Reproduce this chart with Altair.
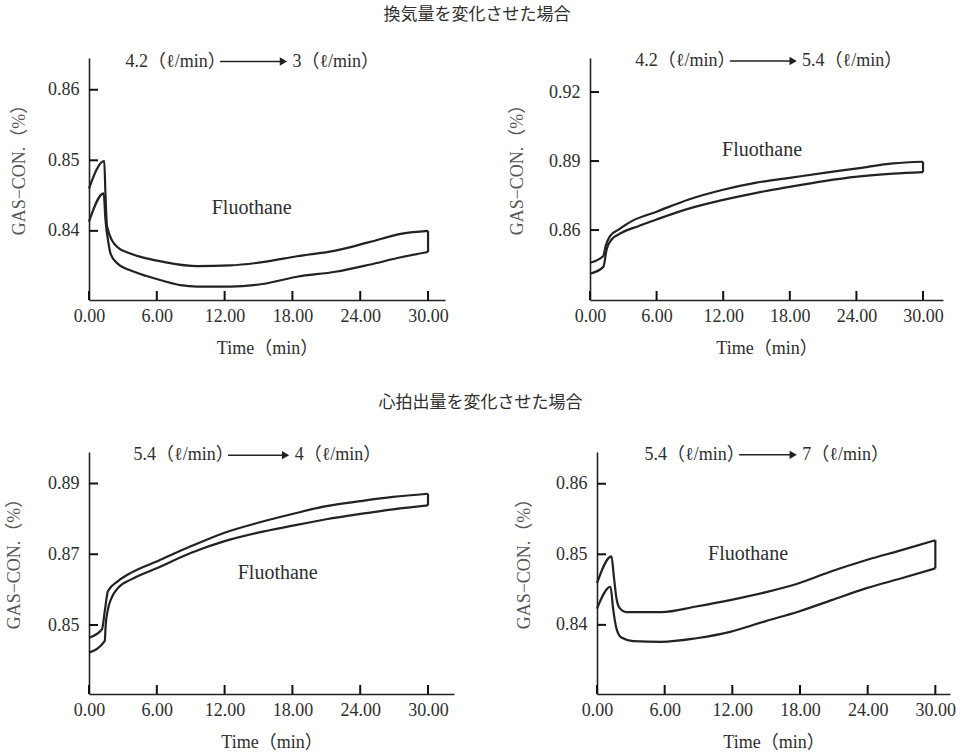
import altair as alt
import pandas as pd

SERIF = "Liberation Serif, DejaVu Serif, Noto Sans CJK JP"
CJK = "Noto Sans CJK JP"
INK = "#222222"
TXT = "#2e2e2e"

# ---------------- data ----------------
x_ticks = [0, 6, 12, 18, 24, 30]

# Panel 1: ventilation 4.2 -> 3 l/min
p1_t_up = [0, 1.35, 1.45, 1.6, 2.5, 3.65, 5.1, 6.6, 9.6, 12.5, 15.5, 18.4, 21.8, 24.8, 27.7, 30.0]
p1_up = [0.8460, 0.8499, 0.8455, 0.8406, 0.8377, 0.8368, 0.8361, 0.8356, 0.8350, 0.8351,
         0.8356, 0.8364, 0.8372, 0.8384, 0.8396, 0.8400]
p1_t_lo = [0, 1.3, 1.45, 1.75, 1.9, 2.5, 3.65, 5.1, 6.6, 8.1, 9.6, 12.5, 15.5, 18.4, 21.8,
           24.8, 27.7, 30.0]
p1_lo = [0.8413, 0.8453, 0.8417, 0.8380, 0.8368, 0.8354, 0.8344, 0.8336, 0.8329, 0.8323,
         0.8321, 0.8321, 0.8325, 0.8335, 0.8342, 0.8352, 0.8363, 0.8370]
p1_yticks = [0.84, 0.85, 0.86]

# Panel 2: ventilation 4.2 -> 5.4 l/min
p2_t_up = [0, 1.2, 1.4, 1.8, 2.6, 3.8, 6.0, 8.9, 11.9, 15.0, 18.0, 21.1, 24.1, 27.3, 30.0]
p2_up = [0.8458, 0.8487, 0.8530, 0.8574, 0.8603, 0.8640, 0.8680, 0.8733, 0.8774, 0.8806,
         0.8827, 0.8849, 0.8868, 0.8890, 0.8897]
p2_t_lo = [0, 1.2, 1.5, 1.95, 2.85, 4.35, 6.0, 8.9, 11.9, 15.0, 18.0, 21.1, 24.1, 27.3, 30.0]
p2_lo = [0.8410, 0.8440, 0.8516, 0.8559, 0.8588, 0.8617, 0.8646, 0.8693, 0.8730, 0.8762,
         0.8788, 0.8813, 0.8832, 0.8845, 0.8852]
p2_yticks = [0.86, 0.89, 0.92]

# Panel 3: cardiac output 5.4 -> 4 l/min
p3_t_up = [0, 1.15, 1.4, 1.68, 2.57, 3.74, 6.1, 9.05, 12.0, 14.96, 17.9, 21.0, 24.0, 26.9, 30.0]
p3_up = [0.8464, 0.8488, 0.8540, 0.8596, 0.8624, 0.8648, 0.8681, 0.8723, 0.8761, 0.8789,
         0.8813, 0.8836, 0.8850, 0.8862, 0.8871]
p3_t_lo = [0, 1.4, 1.47, 1.65, 2.0, 2.57, 3.74, 6.1, 9.05, 12.0, 14.96, 17.9, 21.0, 24.0,
           26.9, 30.0]
p3_lo = [0.8422, 0.8455, 0.8497, 0.8540, 0.8577, 0.8605, 0.8629, 0.8662, 0.8704, 0.8737,
         0.8761, 0.8780, 0.8799, 0.8814, 0.8827, 0.8838]
p3_yticks = [0.85, 0.87, 0.89]

# Panel 4: cardiac output 5.4 -> 7 l/min
p4_t_up = [0, 1.28, 1.48, 1.72, 2.0, 2.6, 3.8, 5.7, 8.8, 11.8, 14.9, 17.9, 20.8, 23.9, 27.0, 30.0]
p4_up = [0.8459, 0.8497, 0.8471, 0.8438, 0.8424, 0.8418, 0.8418, 0.8418, 0.8426, 0.8435,
         0.8446, 0.8459, 0.8476, 0.8492, 0.8506, 0.8520]
p4_t_lo = [0, 1.2, 1.42, 1.72, 2.16, 3.2, 5.7, 8.8, 11.8, 14.9, 17.9, 20.8, 23.9, 27.0, 30.0]
p4_lo = [0.8423, 0.8454, 0.8424, 0.8395, 0.8382, 0.8377, 0.8376, 0.8381, 0.8390, 0.8405,
         0.8419, 0.8435, 0.8452, 0.8466, 0.8480]
p4_yticks = [0.84, 0.85, 0.86]

# annotations: (left text, right text)
p1_ann = ("4.2（ℓ/min）", "3（ℓ/min）")
p2_ann = ("4.2（ℓ/min）", "5.4（ℓ/min）")
p3_ann = ("5.4（ℓ/min）", "4（ℓ/min）")
p4_ann = ("5.4（ℓ/min）", "7（ℓ/min）")

row1_title = "換気量を変化させた場合"
row2_title = "心拍出量を変化させた場合"
label_text = "Fluothane"

H = 242
TICK_PX = 9


def panel(t_up, up, t_lo, lo, ydom, yticks, xmax, width,
          ann, ann_v, arrow_t, fl_t, fl_v, ytitle_pad=22):
    xs = alt.Scale(domain=[0, xmax], nice=False, zero=False)
    ys = alt.Scale(domain=ydom, nice=False, zero=False)
    df = pd.DataFrame({
        "t": list(t_up) + list(t_lo),
        "v": list(up) + list(lo),
        "s": ["upper"] * len(up) + ["lower"] * len(lo),
    })
    lines = alt.Chart(df).mark_line(
        color=INK, strokeWidth=2.2, interpolate="monotone"
    ).encode(
        x=alt.X("t:Q", scale=xs, axis=alt.Axis(
            values=x_ticks, format=".2f", title="Time（min）", labelFlush=False,
            labelPadding=7, titlePadding=14)),
        y=alt.Y("v:Q", scale=ys, axis=alt.Axis(
            values=yticks, format=".2f", title="GAS−CON.（%）", labelFlush=False,
            labelPadding=10, titlePadding=ytitle_pad, titleY=107, titleColor="#555555")),
        detail="s:N",
    )
    close_df = pd.DataFrame({"t": [t_up[-1]], "v": [up[-1]], "v2": [lo[-1]]})
    close = alt.Chart(close_df).mark_rule(color=INK, strokeWidth=2.2).encode(
        x="t:Q", y="v:Q", y2="v2:Q")
    # inward-pointing axis ticks (drawn as short rules in data units)
    dy = (ydom[1] - ydom[0]) * TICK_PX / H
    dx = xmax * TICK_PX / width
    tick_t, tick_y0, tick_y1 = [], [], []
    for t in x_ticks:
        tick_t.append(t)
        tick_y0.append(ydom[0])
        tick_y1.append(ydom[0] + dy)
    xt_df = pd.DataFrame({"tt": tick_t, "ya": tick_y0, "yb": tick_y1})
    xt = alt.Chart(xt_df).mark_rule(color="#111111", strokeWidth=2).encode(
        x="tt:Q", y="ya:Q", y2="yb:Q")
    yt_df = pd.DataFrame({"vv": list(yticks), "xa": [0.0] * len(yticks),
                          "xb": [dx] * len(yticks)})
    yt = alt.Chart(yt_df).mark_rule(color="#111111", strokeWidth=2).encode(
        y="vv:Q", x="xa:Q", x2="xb:Q")
    ann_df = pd.DataFrame({
        "left": [ann[0]], "right": [ann[1]], "v": [ann_v],
        "a0": [arrow_t[0]], "a1": [arrow_t[1]],
        "tl": [arrow_t[0] + 0.5], "tr": [arrow_t[1] + 0.8],
    })
    ann_base = alt.Chart(ann_df)
    left_txt = ann_base.mark_text(font=SERIF, fontSize=18, color=TXT, align="right",
                                  baseline="middle").encode(
        x="tl:Q", y="v:Q", text="left:N")
    right_txt = ann_base.mark_text(font=SERIF, fontSize=18, color=TXT, align="left",
                                   baseline="middle").encode(
        x="tr:Q", y="v:Q", text="right:N")
    arrow_line = ann_base.mark_rule(color=INK, strokeWidth=1.5).encode(
        x="a0:Q", x2="a1:Q", y="v:Q")
    arrow_head = ann_base.mark_point(shape="triangle-right", filled=True, color=INK,
                                     opacity=1, size=70).encode(x="a1:Q", y="v:Q")
    fl = alt.Chart(pd.DataFrame({"t": [fl_t], "v": [fl_v], "txt": [label_text]})).mark_text(
        font=SERIF, fontSize=20, color=TXT, align="center", baseline="middle").encode(
        x="t:Q", y="v:Q", text="txt:N")
    return alt.layer(lines, close, xt, yt, arrow_line, arrow_head, left_txt, right_txt, fl).properties(
        width=width, height=H)


p1 = panel(p1_t_up, p1_up, p1_t_lo, p1_lo, [0.8302, 0.8645], p1_yticks, 31.5, 356,
           p1_ann, 0.8640, (11.6, 17.2), 14.4, 0.8432, ytitle_pad=19)
p2 = panel(p2_t_up, p2_up, p2_t_lo, p2_lo, [0.8296, 0.9348], p2_yticks, 31.8, 353,
           p2_ann, 0.9335, (12.6, 18.3), 15.5, 0.8950)
p3 = panel(p3_t_up, p3_up, p3_t_lo, p3_lo, [0.8305, 0.8989], p3_yticks, 32.3, 365,
           p3_ann, 0.8980, (12.3, 17.4), 16.7, 0.8648, ytitle_pad=24)
p4 = panel(p4_t_up, p4_up, p4_t_lo, p4_lo, [0.8302, 0.8645], p4_yticks, 31.3, 353,
           p4_ann, 0.8641, (12.6, 17.4), 13.4, 0.8500)

row1 = alt.hconcat(p1, p2, spacing=59).properties(
    title=alt.TitleParams(row1_title, font=CJK, fontSize=17, fontWeight="normal",
                          color=TXT, anchor="middle", offset=28))
row2 = alt.hconcat(p3, p4, spacing=61).properties(
    title=alt.TitleParams(row2_title, font=CJK, fontSize=17, fontWeight="normal",
                          color=TXT, anchor="middle", offset=34))

chart = alt.vconcat(row1, row2, spacing=36).configure_view(
    stroke=None).configure_axis(
    grid=False, ticks=False, domainColor=INK, domainWidth=1.6,
    labelFont=SERIF, labelFontSize=18, labelColor=TXT,
    titleFont=SERIF, titleFontSize=18, titleFontWeight="normal", titleColor=TXT,
)

chart.save("out.html", embed_options={"renderer": "svg", "actions": False})
